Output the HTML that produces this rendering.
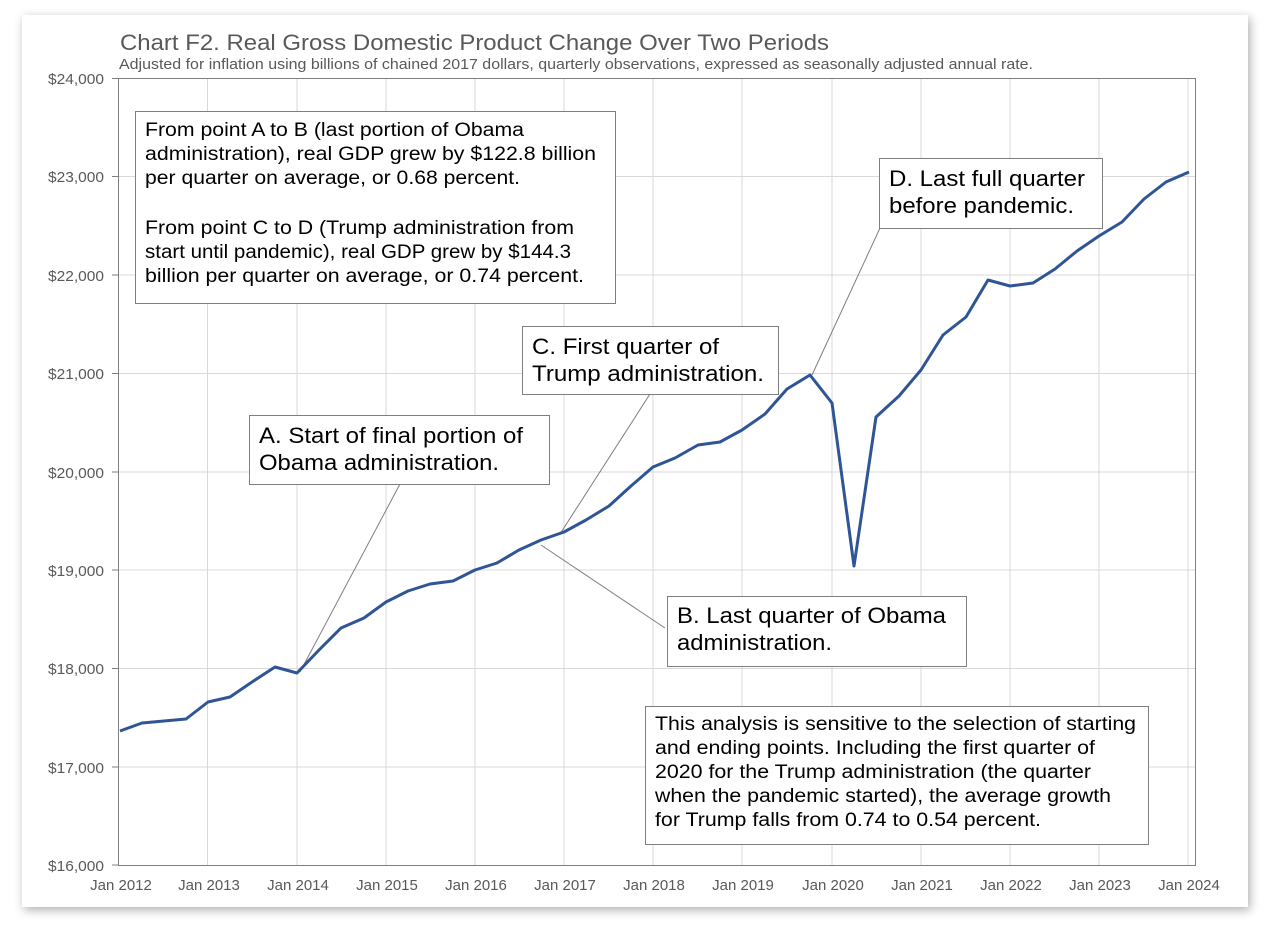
<!DOCTYPE html>
<html><head><meta charset="utf-8"><style>
body{margin:0;background:#fff;width:1270px;height:936px;overflow:hidden;}
svg{position:absolute;left:0;top:0;font-family:"Liberation Sans",Arial,sans-serif;}
</style></head><body>
<svg width="1270" height="936" viewBox="0 0 1270 936">
<defs><filter id="sh" x="-5%" y="-5%" width="110%" height="110%"><feGaussianBlur stdDeviation="5"/></filter></defs>
<rect x="24" y="18" width="1226" height="892" fill="#999" filter="url(#sh)" opacity="0.8"/>
<rect x="22" y="15" width="1226" height="892" fill="#fff"/>
<text x="120" y="50" font-size="22" fill="#595959" textLength="709" lengthAdjust="spacingAndGlyphs">Chart F2. Real Gross Domestic Product Change Over Two Periods</text>
<text x="119" y="69" font-size="14.5" fill="#595959" textLength="914" lengthAdjust="spacingAndGlyphs">Adjusted for inflation using billions of chained 2017 dollars, quarterly observations, expressed as seasonally adjusted annual rate.</text>
<g stroke="#d9d9d9" stroke-width="1">
<line x1="118" y1="176.5" x2="1196" y2="176.5"/><line x1="118" y1="275" x2="1196" y2="275"/><line x1="118" y1="373.5" x2="1196" y2="373.5"/><line x1="118" y1="472" x2="1196" y2="472"/><line x1="118" y1="570" x2="1196" y2="570"/><line x1="118" y1="668.5" x2="1196" y2="668.5"/><line x1="118" y1="767" x2="1196" y2="767"/>
<line x1="207.5" y1="78" x2="207.5" y2="865"/><line x1="297" y1="78" x2="297" y2="865"/><line x1="386" y1="78" x2="386" y2="865"/><line x1="475" y1="78" x2="475" y2="865"/><line x1="564" y1="78" x2="564" y2="865"/><line x1="653" y1="78" x2="653" y2="865"/><line x1="742" y1="78" x2="742" y2="865"/><line x1="832" y1="78" x2="832" y2="865"/><line x1="921" y1="78" x2="921" y2="865"/><line x1="1010" y1="78" x2="1010" y2="865"/><line x1="1099" y1="78" x2="1099" y2="865"/><line x1="1188" y1="78" x2="1188" y2="865"/>
</g>
<rect x="118.5" y="78.5" width="1077" height="787" fill="none" stroke="#7f7f7f"/>
<g stroke="#7f7f7f">
<line x1="112" y1="78.5" x2="118" y2="78.5"/><line x1="112" y1="176.5" x2="118" y2="176.5"/><line x1="112" y1="275" x2="118" y2="275"/><line x1="112" y1="373.5" x2="118" y2="373.5"/><line x1="112" y1="472" x2="118" y2="472"/><line x1="112" y1="570" x2="118" y2="570"/><line x1="112" y1="668.5" x2="118" y2="668.5"/><line x1="112" y1="767" x2="118" y2="767"/><line x1="112" y1="865" x2="118" y2="865"/>
</g>
<g font-size="15" fill="#595959" text-anchor="end">
<text x="104" y="84" textLength="56" lengthAdjust="spacingAndGlyphs">$24,000</text><text x="104" y="182" textLength="56" lengthAdjust="spacingAndGlyphs">$23,000</text><text x="104" y="281" textLength="56" lengthAdjust="spacingAndGlyphs">$22,000</text><text x="104" y="379" textLength="56" lengthAdjust="spacingAndGlyphs">$21,000</text><text x="104" y="478" textLength="56" lengthAdjust="spacingAndGlyphs">$20,000</text><text x="104" y="576" textLength="56" lengthAdjust="spacingAndGlyphs">$19,000</text><text x="104" y="674" textLength="56" lengthAdjust="spacingAndGlyphs">$18,000</text><text x="104" y="773" textLength="56" lengthAdjust="spacingAndGlyphs">$17,000</text><text x="104" y="871" textLength="56" lengthAdjust="spacingAndGlyphs">$16,000</text>
</g>
<g font-size="15" fill="#595959" text-anchor="middle">
<text x="121" y="890">Jan 2012</text><text x="209" y="890">Jan 2013</text><text x="298" y="890">Jan 2014</text><text x="387" y="890">Jan 2015</text><text x="476" y="890">Jan 2016</text><text x="565" y="890">Jan 2017</text><text x="654" y="890">Jan 2018</text><text x="743" y="890">Jan 2019</text><text x="833" y="890">Jan 2020</text><text x="922" y="890">Jan 2021</text><text x="1011" y="890">Jan 2022</text><text x="1100" y="890">Jan 2023</text><text x="1189" y="890">Jan 2024</text>
</g>
<g stroke="#7f7f7f" stroke-width="1">
<line x1="400" y1="484" x2="300" y2="672"/><line x1="650" y1="394" x2="560" y2="534"/><line x1="880" y1="228" x2="812" y2="375"/><line x1="665" y1="628" x2="541" y2="545"/>
</g>
<polyline fill="none" stroke="#2f5597" stroke-width="3" stroke-linejoin="round" points="120,731 142,723 164,721 186,719 208,702 230,697 252,682 275,667 297,673 319,650 341,628 364,618 386,602 408,591 430,584 453,581 475,570 497,563 519,550 541,540 564,532 586,520 609,506 631,486 653,467 675,458 698,445 720,442 742,430 765,414 787,389 810,375 832,403 854,566 876,417 899,396 921,370 943,335 966,317 988,280 1010,286 1033,283 1055,269 1077,251 1099,236 1122,222 1144,199 1166,182 1189,172"/>
<g fill="#fff" stroke="#7f7f7f" stroke-width="1">
<rect x="135.5" y="111.5" width="480" height="192"/>
<rect x="249.5" y="415.5" width="300" height="69"/>
<rect x="522.5" y="326.5" width="256" height="68"/>
<rect x="879.5" y="158.5" width="223" height="70"/>
<rect x="667.5" y="596.5" width="299" height="70"/>
<rect x="645.5" y="706.5" width="503" height="138"/>
</g>
<g font-size="19" fill="#000" lengthAdjust="spacingAndGlyphs">
<text x="145" y="136" textLength="379" lengthAdjust="spacingAndGlyphs">From point A to B (last portion of Obama</text>
<text x="145" y="160" textLength="451" lengthAdjust="spacingAndGlyphs">administration),  real GDP grew by $122.8 billion</text>
<text x="145" y="184" textLength="375" lengthAdjust="spacingAndGlyphs">per quarter on average, or 0.68 percent.</text>
<text x="145" y="234" textLength="429" lengthAdjust="spacingAndGlyphs">From point C to D (Trump  administration  from</text>
<text x="145" y="258" textLength="426" lengthAdjust="spacingAndGlyphs">start until pandemic),  real GDP grew by $144.3</text>
<text x="145" y="282" textLength="439" lengthAdjust="spacingAndGlyphs">billion per quarter on average, or 0.74 percent.</text>
<text x="655" y="730" textLength="481" lengthAdjust="spacingAndGlyphs">This analysis is sensitive to the selection of starting</text>
<text x="655" y="754" textLength="440" lengthAdjust="spacingAndGlyphs">and ending points. Including  the first quarter of</text>
<text x="655" y="778" textLength="436" lengthAdjust="spacingAndGlyphs">2020 for the Trump  administration  (the quarter</text>
<text x="655" y="802" textLength="456" lengthAdjust="spacingAndGlyphs">when the pandemic started), the average growth</text>
<text x="655" y="826" textLength="386" lengthAdjust="spacingAndGlyphs">for Trump  falls from 0.74 to 0.54 percent.</text>
</g>
<g font-size="22" fill="#000">
<text x="259" y="443" textLength="264" lengthAdjust="spacingAndGlyphs">A. Start of final portion of</text>
<text x="259" y="470" textLength="240" lengthAdjust="spacingAndGlyphs">Obama administration.</text>
<text x="532" y="354" textLength="187" lengthAdjust="spacingAndGlyphs">C. First quarter of</text>
<text x="532" y="381" textLength="232" lengthAdjust="spacingAndGlyphs">Trump administration.</text>
<text x="889" y="186" textLength="196" lengthAdjust="spacingAndGlyphs">D. Last full quarter</text>
<text x="889" y="213" textLength="185" lengthAdjust="spacingAndGlyphs">before pandemic.</text>
<text x="677" y="623" textLength="269" lengthAdjust="spacingAndGlyphs">B. Last quarter of Obama</text>
<text x="677" y="650" textLength="155" lengthAdjust="spacingAndGlyphs">administration.</text>
</g>
</svg>
</body></html>
